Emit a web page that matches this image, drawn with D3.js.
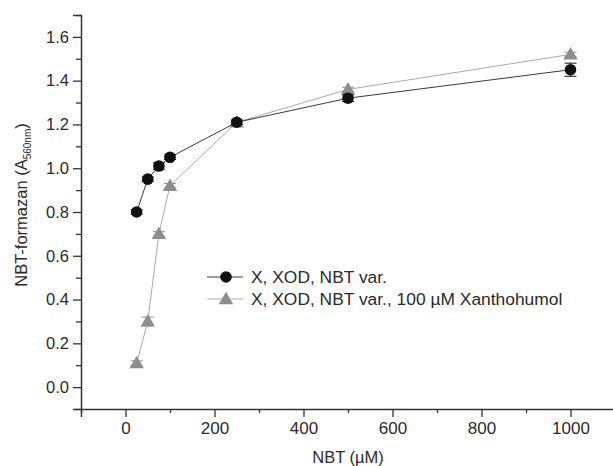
<!DOCTYPE html>
<html>
<head>
<meta charset="utf-8">
<script src="https://cdn.jsdelivr.net/npm/d3@7"></script>
<style>
body { margin: 0; background: #fff; }
svg text { font-family: "Liberation Sans", Arial, sans-serif; fill: #2a2a2a; }
</style>
</head>
<body>
<div id="chart"></div>
<script>
// data
var nbt = [25, 50, 75, 100, 250, 500, 1000];
var controlVals = [0.80, 0.95, 1.01, 1.05, 1.21, 1.32, 1.45];
var controlErr = [0.01, 0.01, 0.015, 0.01, 0.01, 0.015, 0.03];
var xanthoVals = [0.11, 0.30, 0.70, 0.92, 1.21, 1.36, 1.52];
var xanthoErr = [0.01, 0.02, 0.01, 0.01, 0.01, 0.01, 0.01];
var xTicks = [0, 200, 400, 600, 800, 1000];
var yTicks = [0.0, 0.2, 0.4, 0.6, 0.8, 1.0, 1.2, 1.4, 1.6];
var legendNames = ["X, XOD, NBT var.", "X, XOD, NBT var., 100 \u00b5M Xanthohumol"];

var width = 613, height = 466;
var svg = d3.select("#chart").append("svg")
	.attr("width", width)
	.attr("height", height);

var x = d3.scaleLinear().domain([-100, 1100]).range([81, 615]);
var y = d3.scaleLinear().domain([-0.1, 1.7]).range([409, 15]);

var axisColor = "#333";

// x axis (major + minor)
var xMinor = d3.range(-100, 1101, 200);
svg.append("g")
	.attr("transform", "translate(0,409)")
	.call(d3.axisBottom(x).tickValues(xMinor).tickSize(4).tickFormat(""))
	.call(function(g){ g.select(".domain").remove(); })
	.selectAll("line").attr("stroke", axisColor).attr("stroke-width", 1.3);
var gx = svg.append("g")
	.attr("transform", "translate(0,409)")
	.call(d3.axisBottom(x).tickValues(xTicks).tickSize(8).tickPadding(5).tickFormat(d3.format("d")));
gx.select(".domain").attr("stroke", axisColor).attr("stroke-width", 1.5);
gx.selectAll("line").attr("stroke", axisColor).attr("stroke-width", 1.3);
gx.selectAll("text").attr("font-size", 17).attr("fill", "#2a2a2a");

// y axis
var yMinor = d3.range(-1, 18, 2).map(function(d){ return d / 10; });
svg.append("g")
	.attr("transform", "translate(81,0)")
	.call(d3.axisLeft(y).tickValues(yMinor).tickSize(5).tickFormat(""))
	.call(function(g){ g.select(".domain").remove(); })
	.selectAll("line").attr("stroke", axisColor).attr("stroke-width", 1.3);
var gy = svg.append("g")
	.attr("transform", "translate(81,0)")
	.call(d3.axisLeft(y).tickValues(yTicks).tickSize(8).tickPadding(4).tickFormat(d3.format(".1f")));
gy.select(".domain").attr("stroke", axisColor).attr("stroke-width", 1.5);
gy.selectAll("line").attr("stroke", axisColor).attr("stroke-width", 1.3);
gy.selectAll("text").attr("font-size", 16.5).attr("fill", "#2a2a2a");

// axis titles
svg.append("text")
	.attr("x", x(500)).attr("y", 463)
	.attr("text-anchor", "middle")
	.attr("font-size", 16.5)
	.text("NBT (\u00b5M)");

var yt = svg.append("text")
	.attr("transform", "translate(27,205) rotate(-90)")
	.attr("text-anchor", "middle")
	.attr("font-size", 16.5);
yt.append("tspan").text("NBT-formazan (A");
yt.append("tspan").attr("font-size", 10).attr("dy", 4).text("560nm");
yt.append("tspan").attr("dy", -4).text(")");

// series
var series = [
	{ vals: xanthoVals, err: xanthoErr, line: "#aaaaaa", fill: "#8e8e8e", shape: "tri" },
	{ vals: controlVals, err: controlErr, line: "#3a3a3a", fill: "#111111", shape: "circle" }
];

var line = d3.line()
	.x(function(d, i){ return x(nbt[i]); })
	.y(function(d){ return y(d); });

var tri = d3.symbol().type(d3.symbolTriangle).size(90);

series.forEach(function(s){
	svg.append("path")
		.attr("d", line(s.vals))
		.attr("fill", "none")
		.attr("stroke", s.line)
		.attr("stroke-width", 1);

	var g = svg.append("g");
	// error bars
	nbt.forEach(function(n, i){
		var cx = x(n), top = y(s.vals[i] + s.err[i]), bot = y(s.vals[i] - s.err[i]);
		g.append("line").attr("x1", cx).attr("x2", cx).attr("y1", top).attr("y2", bot)
			.attr("stroke", s.fill).attr("stroke-width", 1);
		[top, bot].forEach(function(yy){
			g.append("line").attr("x1", cx - 6).attr("x2", cx + 6).attr("y1", yy).attr("y2", yy)
				.attr("stroke", s.fill).attr("stroke-width", 1);
		});
	});
	nbt.forEach(function(n, i){
		if(s.shape == "circle"){
			g.append("circle").attr("cx", x(n)).attr("cy", y(s.vals[i])).attr("r", 5.8)
				.attr("fill", s.fill);
		}else{
			g.append("path").attr("d", tri)
				.attr("transform", "translate(" + x(n) + "," + (y(s.vals[i]) + 1) + ")")
				.attr("fill", s.fill);
		}
	});
});

// legend
var legend = svg.append("g");
var legendRows = [
	{ name: legendNames[0], line: "#3a3a3a", fill: "#111111", shape: "circle", y: 277 },
	{ name: legendNames[1], line: "#aaaaaa", fill: "#8e8e8e", shape: "tri", y: 299 }
];
legendRows.forEach(function(r){
	legend.append("line").attr("x1", 207).attr("x2", 243).attr("y1", r.y).attr("y2", r.y)
		.attr("stroke", r.line).attr("stroke-width", 1);
	if(r.shape == "circle"){
		legend.append("circle").attr("cx", 226).attr("cy", r.y).attr("r", 5.8).attr("fill", r.fill);
	}else{
		legend.append("path").attr("d", tri).attr("transform", "translate(226," + (r.y + 1) + ")").attr("fill", r.fill);
	}
	legend.append("text").attr("x", 251).attr("y", r.y + 6)
		.attr("font-size", 17.4).text(r.name);
});
</script>
</body>
</html>
